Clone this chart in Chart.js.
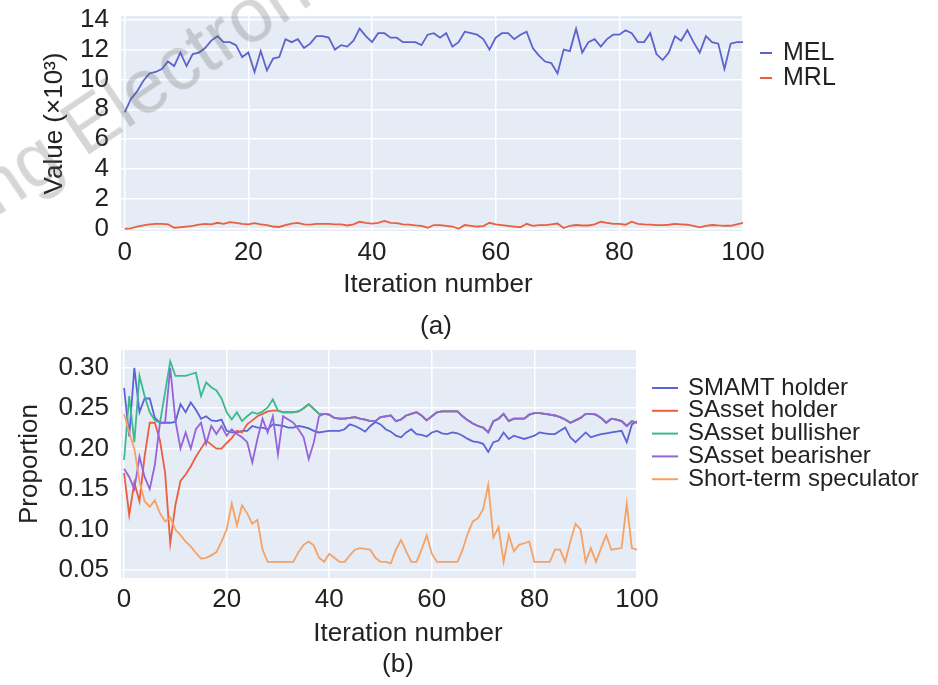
<!DOCTYPE html>
<html>
<head>
<meta charset="utf-8">
<script src="https://cdn.jsdelivr.net/npm/chart.js@4.4.1/dist/chart.umd.min.js"></script>
<style>
  body { margin: 0; background: #fff; width: 938px; height: 685px; overflow: hidden; position: relative;
         font-family: "Liberation Sans", Arial, sans-serif; color: #222; }
  #boxA { position: absolute; left: 0; top: 0; width: 938px; height: 280px; }
  #boxB { position: absolute; left: 0; top: 330px; width: 938px; height: 300px; }
  .txt { position: absolute; font-size: 26px; white-space: nowrap; transform: translate(-50%, -50%); }
  .wm { position: absolute; left: 3px; top: 151px; font-size: 76px; line-height: 1;
        color: rgba(95, 95, 95, 0.26); white-space: pre; transform: rotate(-34deg); transform-origin: 0 100%;
        pointer-events: none; }
</style>
</head>
<body>
<div id="boxA"><canvas id="chartA"></canvas></div>
<div id="boxB"><canvas id="chartB"></canvas></div>
<div class="txt" style="left:438px; top:283px;">Iteration number</div>
<div class="txt" style="left:436px; top:325px;">(a)</div>
<div class="txt" style="left:408px; top:632px;">Iteration number</div>
<div class="txt" style="left:398px; top:663px;">(b)</div>
<div class="wm">ng Electron</div>
<script>
// iteration numbers 0..100
const iterations = [
  0, 1, 2, 3, 4, 5, 6, 7, 8, 9, 10, 11, 12, 13, 14, 15, 16, 17, 18, 19,
  20, 21, 22, 23, 24, 25, 26, 27, 28, 29, 30, 31, 32, 33, 34, 35, 36, 37, 38, 39,
  40, 41, 42, 43, 44, 45, 46, 47, 48, 49, 50, 51, 52, 53, 54, 55, 56, 57, 58, 59,
  60, 61, 62, 63, 64, 65, 66, 67, 68, 69, 70, 71, 72, 73, 74, 75, 76, 77, 78, 79,
  80, 81, 82, 83, 84, 85, 86, 87, 88, 89, 90, 91, 92, 93, 94, 95, 96, 97, 98, 99, 100
];
const xTicks = [0, 20, 40, 60, 80, 100];
const yTicksA = [0, 2, 4, 6, 8, 10, 12, 14];
const yTicksB = [0.05, 0.10, 0.15, 0.20, 0.25, 0.30];

// (a) values in thousands
const mel = [
  7.8, 8.7, 9.2, 9.9, 10.4, 10.5, 10.7, 11.2, 10.9, 11.8,
  10.9, 11.7, 11.8, 12.1, 12.6, 12.9, 12.5, 12.5, 12.3, 11.5,
  11.8, 10.5, 11.9, 10.6, 11.4, 11.5, 12.7, 12.5, 12.7, 12.1,
  12.4, 12.9, 12.9, 12.8, 12.0, 12.3, 12.2, 12.6, 13.4, 12.9,
  12.5, 13.1, 13.1, 12.8, 12.8, 12.5, 12.5, 12.5, 12.3, 13.0,
  13.1, 12.8, 13.1, 12.2, 12.5, 13.2, 13.1, 13.0, 12.7, 12.0,
  12.8, 13.1, 13.1, 12.7, 13.0, 13.2, 12.1, 11.6, 11.2, 11.1,
  10.4, 12.0, 11.9, 13.4, 11.8, 12.5, 12.7, 12.2, 12.7, 13.0,
  13.0, 13.3, 13.1, 12.5, 12.5, 13.1, 11.7, 11.3, 11.8, 12.9,
  12.6, 13.3, 12.5, 11.8, 12.9, 12.5, 12.4, 10.7, 12.4, 12.5, 12.5
];
const mrl = [
  0.00, 0.02, 0.15, 0.22, 0.30, 0.33, 0.33, 0.30, 0.07, 0.10,
  0.15, 0.20, 0.28, 0.33, 0.30, 0.40, 0.33, 0.45, 0.40, 0.33,
  0.30, 0.38, 0.30, 0.25, 0.15, 0.12, 0.25, 0.35, 0.40, 0.30,
  0.28, 0.33, 0.33, 0.33, 0.30, 0.30, 0.22, 0.30, 0.47, 0.40,
  0.35, 0.40, 0.53, 0.40, 0.38, 0.30, 0.28, 0.22, 0.20, 0.07,
  0.25, 0.25, 0.20, 0.15, 0.00, 0.25, 0.20, 0.15, 0.18, 0.40,
  0.30, 0.25, 0.20, 0.15, 0.10, 0.33, 0.20, 0.25, 0.25, 0.30,
  0.35, 0.05, 0.20, 0.25, 0.22, 0.22, 0.30, 0.47, 0.40, 0.33,
  0.33, 0.27, 0.47, 0.33, 0.30, 0.28, 0.25, 0.25, 0.27, 0.33,
  0.30, 0.27, 0.20, 0.10, 0.20, 0.25, 0.22, 0.20, 0.20, 0.30, 0.40
];

// (b) proportions
const smamtHolder = [
  0.275, 0.215, 0.300, 0.245, 0.262, 0.262, 0.238, 0.232, 0.232, 0.232,
  0.233, 0.255, 0.245, 0.257, 0.248, 0.237, 0.240, 0.235, 0.234, 0.236,
  0.222, 0.220, 0.220, 0.222, 0.222, 0.228, 0.226, 0.226, 0.224, 0.230,
  0.229, 0.228, 0.226, 0.226, 0.228, 0.227, 0.225, 0.222, 0.220, 0.221,
  0.222, 0.222, 0.222, 0.224, 0.230, 0.228, 0.225, 0.221, 0.228, 0.233,
  0.230, 0.224, 0.221, 0.216, 0.214, 0.220, 0.224, 0.218, 0.217, 0.215,
  0.220, 0.222, 0.219, 0.218, 0.220, 0.219, 0.216, 0.212, 0.209, 0.208,
  0.206, 0.196, 0.208, 0.210, 0.220, 0.212, 0.216, 0.214, 0.212, 0.214,
  0.216, 0.220, 0.219, 0.218, 0.218, 0.222, 0.226, 0.214, 0.208, 0.214,
  0.220, 0.214, 0.216, 0.218, 0.219, 0.220, 0.221, 0.222, 0.208, 0.230, 0.234
];
const sassetHolder = [
  0.170, 0.118, 0.158, 0.135, 0.190, 0.232, 0.232, 0.210, 0.170, 0.083,
  0.130, 0.160, 0.168, 0.178, 0.190, 0.200, 0.210, 0.205, 0.200, 0.200,
  0.207, 0.213, 0.222, 0.220, 0.230, 0.235, 0.240, 0.243, 0.246, 0.247,
  0.247, 0.245, 0.245, 0.245, 0.246, 0.250, 0.255, 0.249, 0.243, 0.243,
  0.242, 0.238, 0.237, 0.237, 0.238, 0.239, 0.237, 0.236, 0.234, 0.234,
  0.239, 0.240, 0.241, 0.234, 0.236, 0.241, 0.243, 0.245, 0.241, 0.235,
  0.240, 0.245, 0.246, 0.246, 0.246, 0.246, 0.240, 0.235, 0.231, 0.228,
  0.226, 0.220, 0.234, 0.237, 0.243, 0.234, 0.237, 0.237, 0.237, 0.242,
  0.244, 0.244, 0.243, 0.242, 0.241, 0.239, 0.236, 0.232, 0.235, 0.238,
  0.243, 0.243, 0.242, 0.238, 0.232, 0.237, 0.236, 0.234, 0.228, 0.234, 0.232
];
const sassetBullisher = [
  0.186, 0.265, 0.208, 0.290, 0.265, 0.245, 0.235, 0.232, 0.270, 0.308,
  0.290, 0.290, 0.290, 0.292, 0.294, 0.265, 0.282, 0.276, 0.272, 0.262,
  0.245, 0.236, 0.245, 0.234, 0.240, 0.245, 0.243, 0.246, 0.251, 0.261,
  0.247, 0.245, 0.245, 0.245, 0.246, 0.250, 0.255, 0.249, 0.243, 0.243,
  0.242, 0.238, 0.237, 0.237, 0.238, 0.239, 0.237, 0.236, 0.234, 0.234,
  0.239, 0.240, 0.241, 0.234, 0.236, 0.241, 0.243, 0.245, 0.241, 0.235,
  0.240, 0.245, 0.246, 0.246, 0.246, 0.246, 0.240, 0.235, 0.231, 0.228,
  0.226, 0.220, 0.234, 0.237, 0.243, 0.234, 0.237, 0.237, 0.237, 0.242,
  0.244, 0.244, 0.243, 0.242, 0.241, 0.239, 0.236, 0.232, 0.235, 0.238,
  0.243, 0.243, 0.242, 0.238, 0.232, 0.237, 0.236, 0.234, 0.228, 0.234, 0.232
];
const sassetBearisher = [
  0.175, 0.165, 0.150, 0.190, 0.165, 0.150, 0.180, 0.232, 0.232, 0.300,
  0.235, 0.200, 0.220, 0.200, 0.224, 0.232, 0.206, 0.228, 0.218, 0.228,
  0.216, 0.224, 0.218, 0.214, 0.208, 0.183, 0.212, 0.237, 0.220, 0.240,
  0.193, 0.240, 0.236, 0.232, 0.224, 0.214, 0.187, 0.208, 0.240, 0.243,
  0.242, 0.238, 0.237, 0.237, 0.238, 0.239, 0.237, 0.236, 0.234, 0.234,
  0.239, 0.240, 0.241, 0.234, 0.236, 0.241, 0.243, 0.245, 0.241, 0.235,
  0.240, 0.245, 0.246, 0.246, 0.246, 0.246, 0.240, 0.235, 0.231, 0.228,
  0.226, 0.220, 0.234, 0.237, 0.243, 0.234, 0.237, 0.237, 0.237, 0.242,
  0.244, 0.244, 0.243, 0.242, 0.241, 0.239, 0.236, 0.232, 0.235, 0.238,
  0.243, 0.243, 0.242, 0.238, 0.232, 0.237, 0.236, 0.234, 0.228, 0.234, 0.232
];
const speculator = [
  0.243, 0.220, 0.200, 0.160, 0.135, 0.128, 0.136, 0.120, 0.110, 0.115,
  0.100, 0.093, 0.085, 0.079, 0.071, 0.064, 0.065, 0.068, 0.072, 0.085,
  0.100, 0.132, 0.105, 0.130, 0.120, 0.107, 0.112, 0.075, 0.060, 0.060,
  0.060, 0.060, 0.060, 0.060, 0.072, 0.081, 0.085, 0.080, 0.065, 0.060,
  0.070, 0.065, 0.060, 0.060, 0.068, 0.075, 0.077, 0.076, 0.075, 0.065,
  0.060, 0.060, 0.058, 0.075, 0.087, 0.073, 0.060, 0.060, 0.075, 0.093,
  0.070, 0.060, 0.060, 0.060, 0.060, 0.060, 0.075, 0.095, 0.110, 0.114,
  0.125, 0.155, 0.090, 0.103, 0.060, 0.093, 0.073, 0.081, 0.083, 0.085,
  0.060, 0.060, 0.060, 0.060, 0.075, 0.075, 0.060, 0.085, 0.107, 0.100,
  0.060, 0.077, 0.060, 0.077, 0.093, 0.075, 0.076, 0.077, 0.132, 0.077, 0.075
];

const FONT = '"Liberation Sans", Arial, sans-serif';
const TEXT = '#222';
Chart.defaults.font.family = FONT;
Chart.defaults.color = TEXT;

// plotly-like grey-blue plot area
const plotBackground = {
  id: 'plotBackground',
  beforeDraw(chart) {
    const { ctx, chartArea: { left, top, width, height } } = chart;
    ctx.save();
    ctx.fillStyle = '#e5ecf6';
    ctx.fillRect(left, top, width, height);
    ctx.restore();
  }
};

// legend to the right of the plot, short line + label
const sideLegend = {
  id: 'sideLegend',
  afterDraw(chart, args, opts) {
    const ctx = chart.ctx;
    ctx.save();
    ctx.font = opts.size + 'px ' + FONT;
    ctx.textBaseline = 'middle';
    ctx.textAlign = 'left';
    chart.data.datasets.forEach((ds, i) => {
      const y = opts.y + i * opts.gap;
      ctx.strokeStyle = ds.borderColor;
      ctx.lineWidth = 2;
      ctx.beginPath();
      ctx.moveTo(opts.x, y);
      ctx.lineTo(opts.x + opts.len, y);
      ctx.stroke();
      ctx.fillStyle = TEXT;
      ctx.fillText(ds.label, opts.x + opts.len + opts.pad, y);
    });
    ctx.restore();
  }
};

function line(label, data, color, order) {
  return { label, data, borderColor: color, backgroundColor: color, borderWidth: 1.8,
           pointRadius: 0, tension: 0, fill: false, order };
}

function axes(yMin, yMax, yTicks, yTitle, titlePad, xHeight, fmt) {
  return {
    x: {
      type: 'linear', min: xTicks[0] - 0.6, max: xTicks[xTicks.length - 1],
      afterBuildTicks: s => { s.ticks = xTicks.map(v => ({ value: v })); },
      afterFit: s => { s.height = xHeight; },
      grid: { color: '#ffffff', lineWidth: 1.5, drawTicks: false },
      border: { display: false },
      ticks: { font: { size: 26 }, padding: 6, maxRotation: 0, autoSkip: false }
    },
    y: {
      min: yMin, max: yMax,
      afterBuildTicks: s => { s.ticks = yTicks.map(v => ({ value: v })); },
      // fixed axis width, and no extra room above/below for the end labels
      afterFit: s => { s.width = 121; s.paddingTop = 0; s.paddingBottom = 0; },
      grid: { color: '#ffffff', lineWidth: 1.5, drawTicks: false },
      border: { display: false },
      ticks: { font: { size: 26 }, padding: 12, autoSkip: false, callback: fmt },
      title: { display: true, text: yTitle, font: { size: 26 }, padding: { top: titlePad, bottom: 0 } }
    }
  };
}

new Chart(document.getElementById('chartA'), {
  type: 'line',
  data: {
    labels: iterations,
    datasets: [
      line('MEL', mel, '#5b63cc', 2),
      line('MRL', mrl, '#e8603f', 1)
    ]
  },
  options: {
    responsive: true, maintainAspectRatio: false, animation: false,
    layout: { padding: { top: 16, right: 195, left: 0, bottom: 0 } },
    plugins: {
      legend: { display: false }, tooltip: { enabled: false },
      sideLegend: { x: 760, y: 53, gap: 25, len: 12, pad: 11, size: 25 }
    },
    scales: axes(-0.15, 14.25, yTicksA, 'Value (×10³)', 39, 49, v => String(v))
  },
  plugins: [plotBackground, sideLegend]
});

new Chart(document.getElementById('chartB'), {
  type: 'line',
  data: {
    labels: iterations,
    datasets: [
      line('SMAMT holder', smamtHolder, '#5b63d6', 5),
      line('SAsset holder', sassetHolder, '#ea5f40', 4),
      line('SAsset bullisher', sassetBullisher, '#3bbb8c', 3),
      line('SAsset bearisher', sassetBearisher, '#9563da', 2),
      line('Short-term speculator', speculator, '#f7a263', 1)
    ]
  },
  options: {
    responsive: true, maintainAspectRatio: false, animation: false,
    layout: { padding: { top: 20, right: 301, left: 0, bottom: 0 } },
    plugins: {
      legend: { display: false }, tooltip: { enabled: false },
      sideLegend: { x: 652, y: 58, gap: 22.8, len: 26, pad: 10, size: 24 }
    },
    scales: axes(0.040, 0.322, yTicksB, 'Proportion', 14, 52, v => v.toFixed(2))
  },
  plugins: [plotBackground, sideLegend]
});
</script>
</body>
</html>
